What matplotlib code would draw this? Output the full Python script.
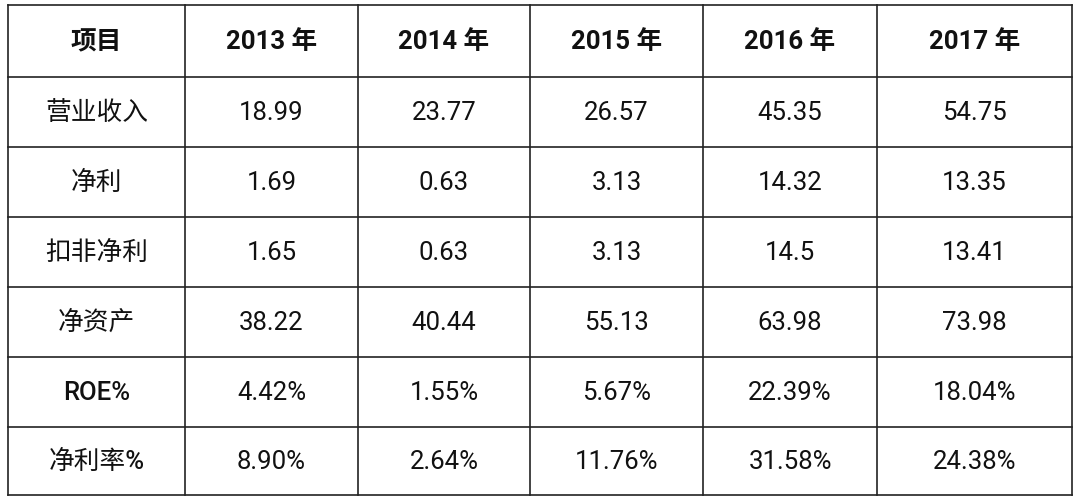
import matplotlib.pyplot as plt

plt.rcParams['font.family'] = ['Roboto', 'Noto Sans CJK SC', 'DejaVu Sans']

header = ['项目', '2013 年', '2014 年', '2015 年', '2016 年', '2017 年']
row_labels = ['营业收入', '净利', '扣非净利', '净资产', 'ROE%', '净利率%']
values = [
    ['18.99', '23.77', '26.57', '45.35', '54.75'],
    ['1.69', '0.63', '3.13', '14.32', '13.35'],
    ['1.65', '0.63', '3.13', '14.5', '13.41'],
    ['38.22', '40.44', '55.13', '63.98', '73.98'],
    ['4.42%', '1.55%', '5.67%', '22.39%', '18.04%'],
    ['8.90%', '2.64%', '11.76%', '31.58%', '24.38%'],
]

W, H = 1080, 502
col_edges = [8, 185, 358, 530, 703, 877, 1072]
row_edges = [6, 78, 148, 218, 288, 358, 428, 496]

fig = plt.figure(figsize=(W / 100, H / 100), dpi=100)
ax = fig.add_axes([0, 0, 1, 1])
ax.set_xlim(0, W)
ax.set_ylim(H, 0)
ax.axis('off')

for x in col_edges:
    ax.plot([x, x], [row_edges[0], row_edges[-1]], color='#222222', lw=1.2)
for y in row_edges:
    ax.plot([col_edges[0], col_edges[-1]], [y, y], color='#222222', lw=1.2)

def cx(i):
    return (col_edges[i] + col_edges[i + 1]) / 2

def cy(j):
    return (row_edges[j] + row_edges[j + 1]) / 2

for i, t in enumerate(header):
    ax.text(cx(i), cy(0), t, ha='center', va='center', fontsize=18.5,
            fontweight='bold', color='#111111')
for j, lab in enumerate(row_labels):
    ax.text(cx(0), cy(j + 1), lab, ha='center', va='center', fontsize=18.5,
            fontweight='medium', color='#111111')
    for i, v in enumerate(values[j]):
        ax.text(cx(i + 1), cy(j + 1), v, ha='center', va='center',
                fontsize=18.5, color='#111111')

fig.savefig('out.png', dpi=100, facecolor='white')
